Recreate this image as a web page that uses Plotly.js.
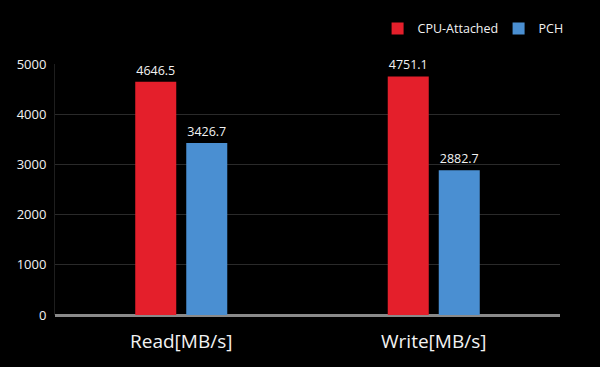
<!DOCTYPE html>
<html>
<head>
<meta charset="utf-8">
<script src="https://cdn.plot.ly/plotly-3.0.1.min.js"></script>
<style>
  html, body { margin: 0; padding: 0; background: #000; }
  #chart { width: 600px; height: 367px; }
</style>
</head>
<body>
<div id="chart"></div>
<script>
// Sequential throughput, CPU-attached vs. PCH-attached storage
const categories = ['Read[MB/s]', 'Write[MB/s]'];
const cpuAttached = [4646.5, 4751.1];
const pch = [3426.7, 2882.7];
const seriesNames = ['CPU-Attached', 'PCH'];
const yTicks = [0, 1000, 2000, 3000, 4000, 5000];

const FONT = '"Open Sans", "DejaVu Sans", sans-serif';

function barTrace(name, values, color) {
  return {
    type: 'bar',
    name: name,
    x: categories,
    y: values,
    marker: { color: color },
    text: values.map(v => v.toFixed(1)),
    textposition: 'outside',
    textfont: { color: '#f2f2f2', size: 12.5, family: FONT },
    cliponaxis: false,
    hoverinfo: 'skip'
  };
}

const data = [
  barTrace(seriesNames[0], cpuAttached, '#e41f2b'),
  barTrace(seriesNames[1], pch, '#4a8fd2')
];

const layout = {
  width: 600,
  height: 367,
  paper_bgcolor: '#000',
  plot_bgcolor: '#000',
  font: { family: FONT, color: '#f2f2f2' },
  margin: { l: 55, r: 40, t: 64, b: 52, autoexpand: false },
  barmode: 'group',
  bargap: 0.596,
  bargroupgap: 0.196,
  showlegend: true,
  legend: {
    orientation: 'h',
    x: 1.118,
    xanchor: 'right',
    y: 1.14,
    yanchor: 'middle',
    font: { size: 12.5, color: '#f2f2f2', family: FONT },
    bgcolor: 'rgba(0,0,0,0)',
    itemwidth: 30,
    entrywidth: 76,
    traceorder: 'normal'
  },
  xaxis: {
    type: 'category',
    range: [-0.5, 1.5],
    showgrid: false,
    zeroline: false,
    showline: false,
    ticks: '',
    tickfont: { size: 19, color: '#f2f2f2', family: FONT },
    ticklabelstandoff: 13
  },
  yaxis: {
    range: [0, 5000],
    tickvals: yTicks,
    ticktext: yTicks.map(String),
    showgrid: true,
    gridcolor: '#2a2a2a',
    gridwidth: 1,
    zeroline: true,
    zerolinecolor: '#8a8a8a',
    zerolinewidth: 3,
    showline: true,
    linecolor: '#1e1e1e',
    linewidth: 1,
    ticks: '',
    tickfont: { size: 13, color: '#f2f2f2', family: FONT },
    ticklabelstandoff: 5
  }
};

Plotly.newPlot('chart', data, layout, { displayModeBar: false, staticPlot: true });
</script>
</body>
</html>
